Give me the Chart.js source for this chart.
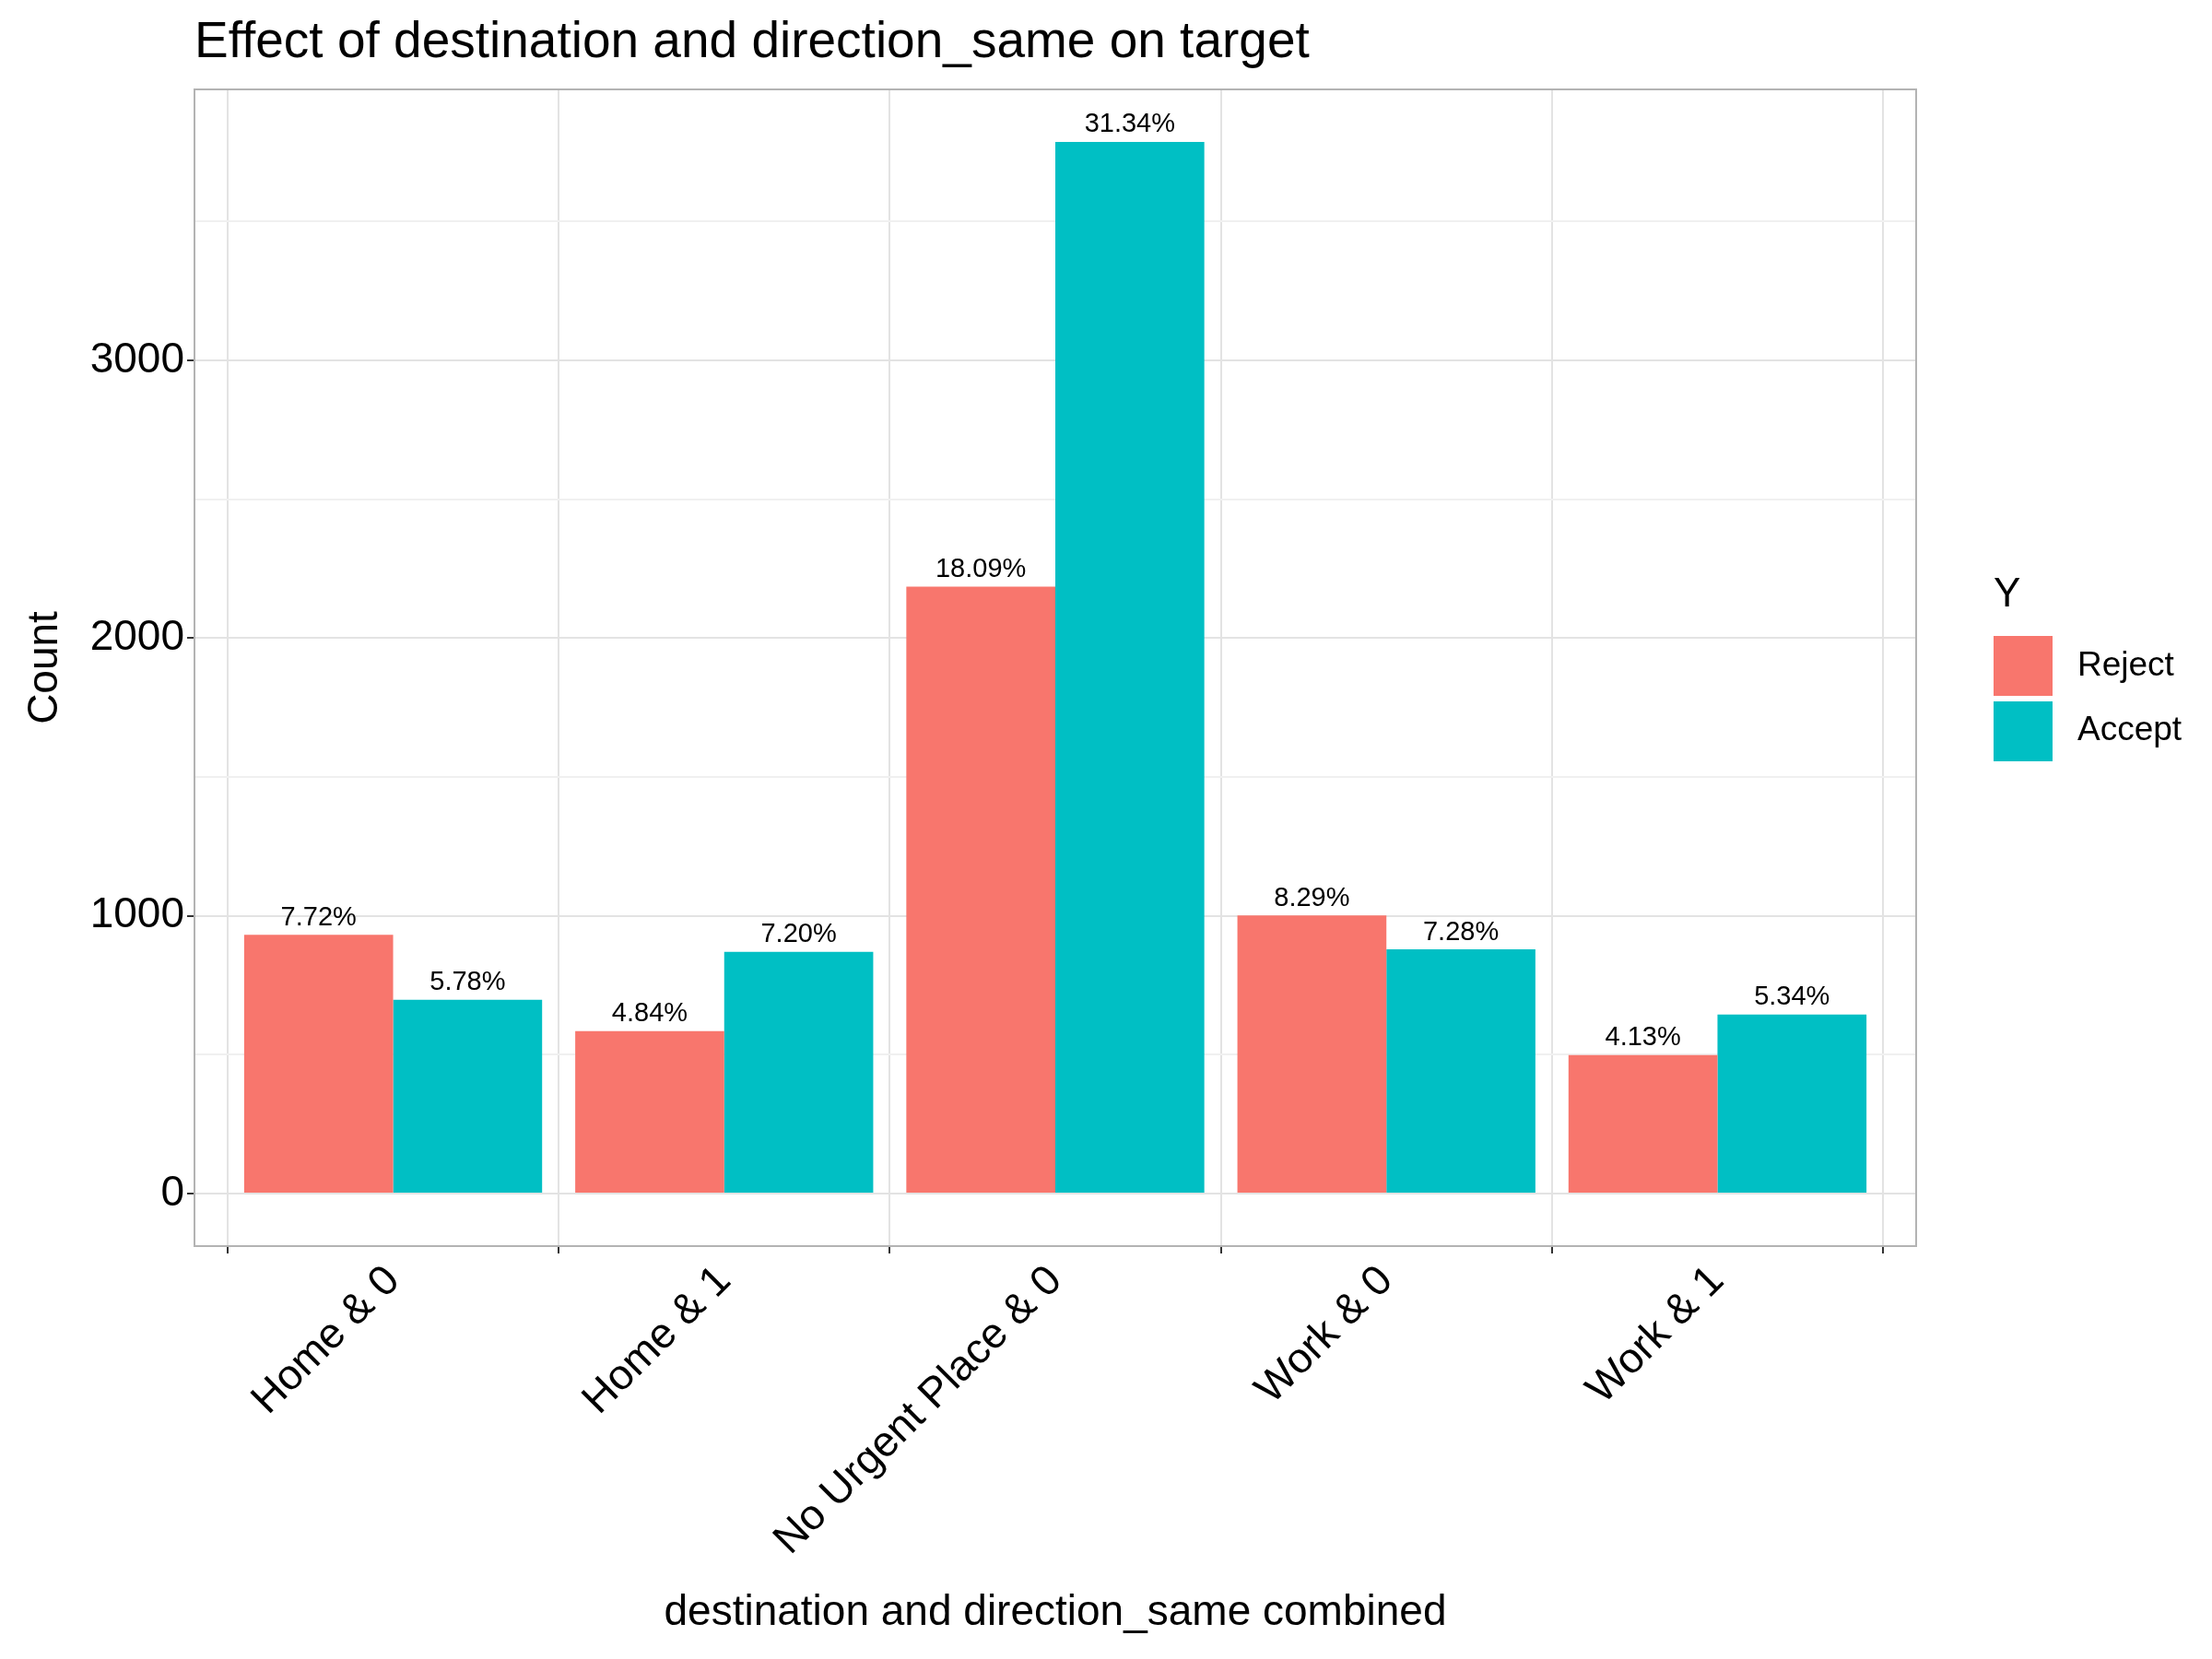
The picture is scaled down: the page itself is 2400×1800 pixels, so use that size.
<!DOCTYPE html>
<html><head><script src="https://cdn.jsdelivr.net/npm/chart.js@4"></script>
<style>body{margin:0;background:#fff}</style></head>
<body><canvas id="c" width="2400" height="1800"></canvas>
<script>
const categories=["Home & 0","Home & 1","No Urgent Place & 0","Work & 0","Work & 1"];
const rejectCounts=[932,585,2185,1001,499];
const acceptCounts=[698,870,3786,879,645];
const rejectPct=["7.72%","4.84%","18.09%","8.29%","4.13%"];
const acceptPct=["5.78%","7.20%","31.34%","7.28%","5.34%"];
const yTicks=[0,500,1000,1500,2000,2500,3000,3500];
const F="'Liberation Sans', Arial, sans-serif";
const RED="#F8766D",TEAL="#00BFC4";
const pts=a=>a.map((v,i)=>({x:i+1,y:v}));
const deco={id:'deco',
 beforeDraw(c){const x=c.ctx;x.save();x.fillStyle='#fff';x.fillRect(0,0,2400,1800);x.restore();},
 afterDraw(c){const x=c.ctx,a=c.chartArea;x.save();
  x.strokeStyle='#b3b3b3';x.lineWidth=2;x.strokeRect(a.left,a.top,a.right-a.left,a.bottom-a.top);
  x.fillStyle='#000';x.font='29px '+F;x.textAlign='center';x.textBaseline='bottom';
  [rejectPct,acceptPct].forEach((lab,i)=>{c.getDatasetMeta(i).data.forEach((b,j)=>x.fillText(lab[j],b.x,b.y-4));});
  x.textAlign='left';x.textBaseline='alphabetic';x.font='55px '+F;
  x.fillText('Effect of destination and direction_same on target',211,62);
  x.font='44px '+F;x.fillText('Y',2163,658);
  x.fillStyle=RED;x.fillRect(2163,690,64,65);x.fillStyle=TEAL;x.fillRect(2163,761,64,65);
  x.fillStyle='#000';x.font='37px '+F;x.textBaseline='middle';
  x.fillText('Reject',2254,723);x.fillText('Accept',2254,793);
  x.restore();}};
new Chart(document.getElementById('c'),{type:'bar',
 data:{datasets:[
  {label:'Reject',data:pts(rejectCounts),backgroundColor:RED,categoryPercentage:0.9,barPercentage:1},
  {label:'Accept',data:pts(acceptCounts),backgroundColor:TEAL,categoryPercentage:0.9,barPercentage:1}]},
 options:{responsive:false,devicePixelRatio:1,animation:false,
  layout:{padding:{top:97,right:321,left:22,bottom:0}},
  plugins:{legend:{display:false},title:{display:false},tooltip:{enabled:false}},
  scales:{
   x:{type:'linear',min:0.4,max:5.6,offset:false,grid:{color:'#e3e3e3',lineWidth:2,drawTicks:true,tickLength:8,tickColor:'#333'},border:{display:false},
    afterBuildTicks(s){s.ticks=[1,2,3,4,5].map(v=>({value:v}));},
    ticks:{font:{size:46,family:F},color:'#000',maxRotation:45,minRotation:45,callback:v=>categories[v-1]||''},
    title:{display:true,text:'destination and direction_same combined',font:{size:46,family:F},color:'#000',padding:{top:0,bottom:22}},
    afterFit(s){s.height=448;}},
   y:{min:-189,max:3975,grid:{color:c=>c.tick&&c.tick.value%1000===0?'#e3e3e3':'#f0f0f0',lineWidth:2,tickLength:8,tickColor:c=>c.tick&&c.tick.value%1000===0?'#333':'rgba(0,0,0,0)'},border:{display:false},
    afterBuildTicks(s){s.ticks=yTicks.map(v=>({value:v}));},
    ticks:{font:{size:46,family:F},color:'#000',callback:v=>v%1000===0?String(v):''},
    title:{display:true,text:'Count',font:{size:46,family:F},color:'#000',padding:0},
    afterFit(s){s.width=189;}}}},
 plugins:[deco]});
</script></body></html>
